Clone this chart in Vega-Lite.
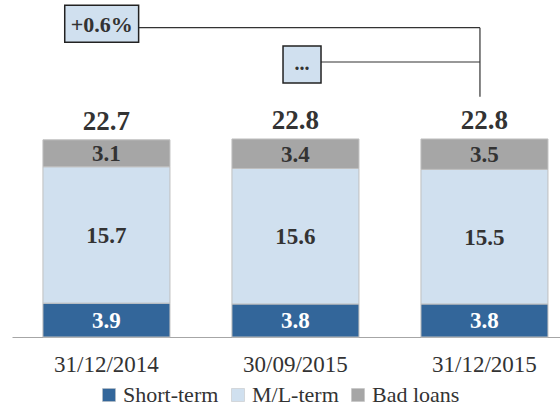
{
  "$schema": "https://vega.github.io/schema/vega-lite/v6.json",
  "width": 548,
  "height": 337,
  "autosize": {"type": "none"},
  "padding": {"left": 12, "top": 0, "right": 0, "bottom": 70},
  "background": "white",
  "config": {
    "view": {"stroke": null},
    "font": "Liberation Serif"
  },
  "data": {
    "values": [
      {"date": "31/12/2014", "type": "Short-term", "ord": 1, "value": 3.9},
      {"date": "31/12/2014", "type": "M/L-term", "ord": 2, "value": 15.7},
      {"date": "31/12/2014", "type": "Bad loans", "ord": 3, "value": 3.1},
      {"date": "30/09/2015", "type": "Short-term", "ord": 1, "value": 3.8},
      {"date": "30/09/2015", "type": "M/L-term", "ord": 2, "value": 15.6},
      {"date": "30/09/2015", "type": "Bad loans", "ord": 3, "value": 3.4},
      {"date": "31/12/2015", "type": "Short-term", "ord": 1, "value": 3.8},
      {"date": "31/12/2015", "type": "M/L-term", "ord": 2, "value": 15.5},
      {"date": "31/12/2015", "type": "Bad loans", "ord": 3, "value": 3.5}
    ]
  },
  "resolve": {"scale": {"x": "independent"}},
  "layer": [
    {
      "encoding": {
        "x": {
          "field": "date",
          "type": "nominal",
          "sort": ["31/12/2014", "30/09/2015", "31/12/2015"],
          "scale": {"paddingInner": 0.328, "paddingOuter": 0.1137, "align": 0.72},
          "axis": {
            "title": null,
            "labelAngle": 0,
            "labelFont": "Liberation Serif",
            "labelFontSize": 23,
            "labelColor": "#333333",
            "labelPadding": 16,
            "ticks": false,
            "domainColor": "#A6A6A6",
            "domainWidth": 1,
            "grid": false
          }
        }
      },
      "layer": [
        {
          "mark": {"type": "bar", "stroke": "#BFBFBF", "strokeWidth": 1},
          "encoding": {
            "y": {
              "field": "value",
              "type": "quantitative",
              "aggregate": "sum",
              "stack": "zero",
              "scale": {"domain": [0, 38.8], "nice": false},
              "axis": null
            },
            "color": {
              "field": "type",
              "type": "nominal",
              "scale": {
                "domain": ["Short-term", "M/L-term", "Bad loans"],
                "range": ["#33669A", "#D0E0EF", "#A6A6A6"]
              },
              "legend": {
                "title": null,
                "orient": "none",
                "direction": "horizontal",
                "legendX": 86,
                "legendY": 384,
                "padding": 0,
                "symbolType": "square",
                "symbolSize": 169,
                "symbolStrokeColor": "#BFBFBF",
                "symbolStrokeWidth": 0.5,
                "labelFont": "Liberation Serif",
                "labelFontSize": 22,
                "labelColor": "#333333",
                "labelOffset": 3,
                "columnPadding": 8
              }
            },
            "order": {"field": "ord", "type": "quantitative"}
          }
        },
        {
          "mark": {"type": "text", "font": "Liberation Serif", "fontWeight": "bold", "fontSize": 23, "baseline": "middle", "dy": 1},
          "encoding": {
            "y": {"field": "value", "type": "quantitative", "stack": "zero", "bandPosition": 0.5},
            "detail": {"field": "type"},
            "order": {"field": "ord", "type": "quantitative"},
            "text": {"field": "value", "type": "quantitative", "format": ".1f"},
            "color": {
              "condition": {"test": "datum.type === 'Short-term'", "value": "white"},
              "value": "#333333"
            }
          }
        },
        {
          "mark": {"type": "text", "font": "Liberation Serif", "fontWeight": "bold", "fontSize": 27, "baseline": "alphabetic", "dy": -10, "color": "#333333"},
          "encoding": {
            "y": {"field": "value", "type": "quantitative", "aggregate": "sum"},
            "text": {"field": "value", "type": "quantitative", "aggregate": "sum", "format": ".1f"}
          }
        }
      ]
    },
    {
      "data": {"values": [{}]},
      "encoding": {},
      "layer": [
        {
          "mark": {"type": "rule", "color": "#333333", "strokeWidth": 1.2},
          "encoding": {
            "x": {"datum": 0.17, "type": "quantitative", "scale": {"domain": [-0.5, 2.3995], "nice": false, "zero": false}, "axis": null},
            "x2": {"datum": 1.976},
            "y": {"datum": 35.61}
          }
        },
        {
          "mark": {"type": "rule", "color": "#333333", "strokeWidth": 1.2},
          "encoding": {
            "x": {"datum": 1.135, "type": "quantitative"},
            "x2": {"datum": 1.976},
            "y": {"datum": 31.66}
          }
        },
        {
          "mark": {"type": "rule", "color": "#333333", "strokeWidth": 1.2},
          "encoding": {
            "x": {"datum": 1.976, "type": "quantitative"},
            "y": {"datum": 35.61},
            "y2": {"datum": 27.67}
          }
        },
        {
          "mark": {"type": "rect", "fill": "#D0E0EF", "stroke": "#222222", "strokeWidth": 1.5},
          "encoding": {
            "x": {"datum": -0.221, "type": "quantitative"},
            "x2": {"datum": 0.17},
            "y": {"datum": 38.19},
            "y2": {"datum": 33.93}
          }
        },
        {
          "mark": {"type": "rect", "fill": "#D0E0EF", "stroke": "#222222", "strokeWidth": 1.5},
          "encoding": {
            "x": {"datum": 0.934, "type": "quantitative"},
            "x2": {"datum": 1.135},
            "y": {"datum": 33.5},
            "y2": {"datum": 29.25}
          }
        },
        {
          "mark": {"type": "text", "font": "Liberation Serif", "fontWeight": "bold", "fontSize": 22, "baseline": "middle", "color": "#333333", "dy": 1},
          "encoding": {
            "x": {"datum": -0.0255, "type": "quantitative"},
            "y": {"datum": 36.06},
            "text": {"value": "+0.6%"}
          }
        },
        {
          "mark": {"type": "text", "font": "Liberation Serif", "fontWeight": "bold", "fontSize": 20, "baseline": "middle", "color": "#333333"},
          "encoding": {
            "x": {"datum": 1.034, "type": "quantitative"},
            "y": {"datum": 31.375},
            "text": {"value": "..."}
          }
        }
      ]
    }
  ]
}
